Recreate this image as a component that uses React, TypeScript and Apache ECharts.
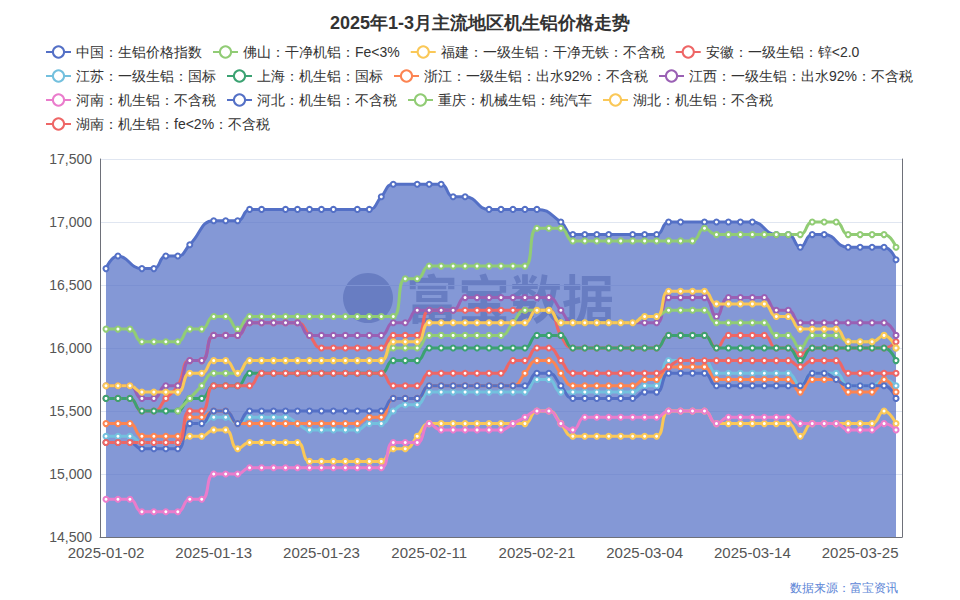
import React, { useEffect, useRef } from "react";
import * as echarts from "echarts";

const dates = [
  "2025-01-02","2025-01-03","2025-01-04","2025-01-06","2025-01-07","2025-01-08","2025-01-09","2025-01-10","2025-01-11","2025-01-13",
  "2025-01-14","2025-01-15","2025-01-16","2025-01-17","2025-01-18","2025-01-20","2025-01-21","2025-01-22","2025-01-23","2025-01-24",
  "2025-01-25","2025-01-27","2025-02-05","2025-02-06","2025-02-07","2025-02-08","2025-02-10","2025-02-11","2025-02-12","2025-02-13",
  "2025-02-14","2025-02-15","2025-02-17","2025-02-18","2025-02-19","2025-02-20","2025-02-21","2025-02-22","2025-02-24","2025-02-25",
  "2025-02-26","2025-02-27","2025-02-28","2025-03-01","2025-03-03","2025-03-04","2025-03-05","2025-03-06","2025-03-07","2025-03-08",
  "2025-03-10","2025-03-11","2025-03-12","2025-03-13","2025-03-14","2025-03-15","2025-03-17","2025-03-18","2025-03-19","2025-03-20",
  "2025-03-21","2025-03-22","2025-03-24","2025-03-25","2025-03-26","2025-03-27","2025-03-28"
];

const seriesNames = [
  "中国：生铝价格指数",
  "佛山：干净机铝：Fe<3%",
  "福建：一级生铝：干净无铁：不含税",
  "安徽：一级生铝：锌<2.0",
  "江苏：一级生铝：国标",
  "上海：机生铝：国标",
  "浙江：一级生铝：出水92%：不含税",
  "江西：一级生铝：出水92%：不含税",
  "河南：机生铝：不含税",
  "河北：机生铝：不含税",
  "重庆：机械生铝：纯汽车",
  "湖北：机生铝：不含税",
  "湖南：机生铝：fe<2%：不含税"
];

const colors = ["#5470c6","#91cc75","#fac858","#ee6666","#73c0de","#3ba272","#fc8452","#9a60b4","#ea7ccc","#5470c6","#91cc75","#fac858","#ee6666"];

const chinaIndex = [
  16630,16730,null,16630,16630,16730,16730,16820,null,17010,
  17010,17010,17100,17100,null,17100,17100,17100,17100,17100,
  null,17100,17100,17200,17300,null,17300,17300,17300,17200,
  17200,null,17100,17100,17100,17100,17100,null,17000,16900,
  16900,16900,16900,null,16900,16900,16900,17000,17000,null,
  17000,17000,17000,17000,17000,null,16900,16900,16800,16900,
  16900,null,16800,16800,16800,16800,16700
];
const foshan = [
  16150,16150,16150,16050,16050,16050,16050,16150,16150,16250,
  16250,16150,16250,16250,16250,16250,16250,16250,16250,16250,
  16250,16250,16250,16250,16250,16550,16550,16650,16650,16650,
  16650,16650,16650,16650,16650,16650,16950,16950,16950,16850,
  16850,16850,16850,16850,16850,16850,16850,16850,16850,16850,
  16950,16900,16900,16900,16900,16900,16900,16900,16900,17000,
  17000,17000,16900,16900,16900,16900,16800
];
const fujian = [
  15250,15250,15250,15250,15250,15250,15250,15300,15300,15350,
  15350,15200,15250,15250,15250,15250,15250,15100,15100,15100,
  15100,15100,15100,15100,15200,15200,15300,15400,15400,15400,
  15400,15400,15400,15400,15400,15400,15500,15500,15400,15300,
  15300,15300,15300,15300,15300,15300,15300,15500,15500,15500,
  15500,15400,15400,15400,15400,15400,15400,15400,15300,15400,
  15400,15400,15400,15400,15400,15500,15400
];
const anhui = [
  15600,15600,15600,15500,15500,15600,15700,15900,15900,16100,
  16100,16100,16200,16200,16200,16200,16200,16100,16000,16000,
  16000,16000,16000,16000,16100,16100,16100,16300,16300,16300,
  16300,16300,16300,16300,16300,16300,16300,16300,16100,16000,
  16000,16000,16000,16000,16000,16000,16000,16100,16100,16100,
  16100,16000,16100,16100,16100,16100,16000,16000,15950,16000,
  16000,16000,16000,16000,16000,16000,16050
];
const jiangsu = [
  15300,15300,15300,15250,15250,15250,15250,15400,15400,15450,
  15450,15400,15450,15450,15450,15450,15400,15350,15350,15350,
  15350,15350,15400,15400,15500,15550,15550,15650,15650,15650,
  15650,15650,15650,15650,15650,15650,15750,15750,15650,15650,
  15650,15650,15650,15650,15650,15700,15700,15900,15900,15900,
  15900,15800,15800,15800,15800,15800,15800,15800,15700,15800,
  15800,15800,15700,15700,15700,15750,15700
];
const shanghai = [
  15600,15600,15600,15500,15500,15500,15500,15600,15600,15700,
  15700,15700,15800,15800,15800,15800,15800,15800,15800,15800,
  15800,15800,15800,15800,15900,15900,15900,16000,16000,16000,
  16000,16000,16000,16000,16000,16000,16100,16100,16100,16000,
  16000,16000,16000,16000,16000,16000,16000,16100,16100,16100,
  16100,16000,16000,16000,16000,16000,16000,16000,15900,16000,
  16000,16000,16000,16000,16000,16000,15900
];
const zhejiang = [
  15400,15400,15400,15300,15300,15300,15300,15450,15450,15500,
  15500,15400,15400,15400,15400,15400,15400,15400,15400,15400,
  15400,15400,15450,15450,15600,15600,15600,15700,15700,15700,
  15700,15700,15700,15700,15700,15800,15900,15900,15800,15700,
  15700,15700,15700,15700,15700,15750,15750,15850,15850,15850,
  15850,15750,15750,15750,15750,15750,15750,15750,15650,15750,
  15750,15750,15650,15650,15650,15750,15650
];
const jiangxi = [
  15700,15700,15700,15600,15600,15700,15700,15900,15900,16100,
  16100,16100,16200,16200,16200,16200,16200,16100,16100,16100,
  16100,16100,16100,16100,16200,16200,16300,16300,16300,16300,
  16400,16400,16400,16400,16400,16400,16400,16400,16300,16200,
  16200,16200,16200,16200,16200,16200,16200,16400,16400,16400,
  16400,16250,16400,16400,16400,16400,16300,16300,16200,16200,
  16200,16200,16200,16200,16200,16200,16100
];
const henan = [
  14800,14800,14800,14700,14700,14700,14700,14800,14800,15000,
  15000,15000,15050,15050,15050,15050,15050,15050,15050,15050,
  15050,15050,15050,15050,15250,15250,15250,15400,15350,15350,
  15350,15350,15350,15350,15400,15450,15500,15500,15400,15350,
  15450,15450,15450,15450,15450,15450,15450,15500,15500,15500,
  15500,15400,15450,15450,15450,15450,15450,15450,15400,15400,
  15400,15400,15350,15350,15350,15400,15350
];
const hebei = [
  15250,15250,15250,15200,15200,15200,15200,15400,15400,15500,
  15500,15400,15500,15500,15500,15500,15500,15500,15500,15500,
  15500,15500,15500,15500,15600,15600,15600,15700,15700,15700,
  15700,15700,15700,15700,15700,15700,15800,15800,15700,15600,
  15600,15600,15600,15600,15600,15650,15650,15800,15800,15800,
  15800,15700,15700,15700,15700,15700,15700,15700,15700,15800,
  15800,15750,15700,15700,15700,15700,15600
];
const chongqing = [
  null,null,null,null,null,null,15500,15600,15700,15800,
  15800,15800,15900,15900,15900,15900,15900,15900,15900,15900,
  15900,15900,15900,15900,16000,16000,16000,16100,16100,16100,
  16100,16100,16100,16100,16200,16300,16300,16300,16200,16200,
  16200,16200,16200,16200,16200,16250,16250,16300,16300,16300,
  16300,16200,16200,16200,16200,16200,16100,16100,16000,16100,
  16100,16100,16050,16050,16050,16100,16000
];
const hubei = [
  15700,15700,15700,15650,15650,15650,15650,15800,15800,15900,
  15900,15800,15900,15900,15900,15900,15900,15900,15900,15900,
  15900,15900,15900,15900,16050,16050,16050,16200,16200,16200,
  16200,16200,16200,16200,16200,16200,16300,16300,16200,16200,
  16200,16200,16200,16200,16200,16250,16250,16450,16450,16450,
  16450,16350,16350,16350,16350,16350,16250,16250,16150,16150,
  16150,16150,16050,16050,16050,16100,16000
];
const hunan = [
  15250,15250,15250,15250,15250,15250,15250,15500,15500,15700,
  15700,15700,15700,15800,15800,15800,15800,15800,15800,15800,
  15800,15800,15800,15800,15700,15700,15700,15800,15800,15800,
  15800,15800,15800,15800,15900,15900,16000,16000,15900,15800,
  15800,15800,15800,15800,15800,15800,15800,15850,15900,15900,
  15900,15900,15900,15900,15900,15900,15900,15900,15850,15900,
  15900,15900,15800,15800,15800,15800,15800
];

const seriesData = [chinaIndex, foshan, fujian, anhui, jiangsu, shanghai, zhejiang, jiangxi, henan, hebei, chongqing, hubei, hunan];

const yMin = 14500;
const yMax = 17500;
const yStep = 500;

export default function App() {
  const ref = useRef<HTMLDivElement>(null);
  useEffect(() => {
    if (!ref.current) return;
    document.body.style.margin = "0";
    const chart = echarts.init(ref.current, undefined, { renderer: "svg" });
    const series = seriesNames.map((name, i) => ({
      name,
      type: "line",
      data: seriesData[i],
      smooth: true,
      connectNulls: true,
      symbol: "emptyCircle",
      symbolSize: 5,
      showSymbol: true,
      showAllSymbol: true,
      itemStyle: { color: colors[i], borderWidth: 1.5 },
      lineStyle: { width: 3, color: colors[i] },
      ...(i === 0 ? { areaStyle: { color: colors[0], opacity: 0.72 } } : {}),
    }));
    chart.setOption({
      animation: false,
      color: colors,
      title: {
        text: "2025年1-3月主流地区机生铝价格走势",
        left: "center",
        top: 9,
        textStyle: { fontSize: 18, fontWeight: "bold", color: "#333" },
      },
      legend: {
        data: seriesNames,
        left: 40,
        right: 40,
        top: 40,
        itemGap: 10,
        itemWidth: 25,
        itemHeight: 14,
        textStyle: { fontSize: 14, color: "#333" },
      },
      grid: { left: 100, right: 58, top: 159, bottom: 63, containLabel: false },
      xAxis: {
        type: "category",
        data: dates,
        boundaryGap: true,
        axisLine: { lineStyle: { color: "#6E7079" } },
        axisTick: { interval: 8, lineStyle: { color: "#6E7079" } },
        axisLabel: { interval: 8, fontSize: 15, color: "#555", margin: 8 },
      },
      yAxis: [
        {
          type: "value",
          min: yMin,
          max: yMax,
          interval: yStep,
          axisLine: { show: true, lineStyle: { color: "#6E7079" } },
          axisTick: { show: false },
          axisLabel: { fontSize: 14, color: "#555", margin: 8, formatter: (v: number) => v.toLocaleString("en-US") },
          splitLine: { lineStyle: { color: "#E0E6F1" } },
        },
        {
          type: "value",
          position: "right",
          min: yMin,
          max: yMax,
          interval: yStep,
          axisLine: { show: true, lineStyle: { color: "#6E7079" } },
          axisTick: { show: false },
          axisLabel: { show: false },
          splitLine: { show: false },
        },
      ],
      graphic: [
        {
          type: "circle",
          z: 0,
          shape: { cx: 368, cy: 298, r: 25 },
          style: { fill: "#9a9fb8" },
        },
        {
          type: "text",
          z: 0,
          left: 406,
          top: 270,
          style: { text: "富宝数据", fontSize: 52, fontWeight: "bold", fill: "#9a9fb8", fontFamily: "Noto Sans CJK SC" },
        },
        {
          type: "text",
          right: 62,
          bottom: 6,
          style: { text: "数据来源：富宝资讯", fontSize: 12, fill: "#5b84d6" },
        },
      ],
      series,
    });
    return () => chart.dispose();
  }, []);
  return <div ref={ref} style={{ width: 960, height: 600 }} />;
}
